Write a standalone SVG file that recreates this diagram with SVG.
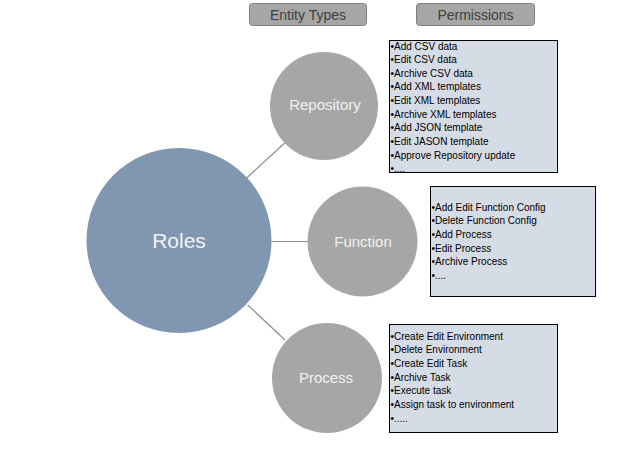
<svg xmlns="http://www.w3.org/2000/svg" width="632" height="458" viewBox="0 0 632 458">
<style>
.hdr{fill:#a6a6a6;stroke:#7f7f7f;stroke-width:1}
.hdrt{font-family:"Liberation Sans",Arial,sans-serif;font-size:14px;fill:#404040;text-anchor:middle}
.gc{fill:#a6a6a6}
.ct{font-family:"Liberation Sans",Arial,sans-serif;font-size:15px;fill:#f2f2f2;text-anchor:middle}
.box{fill:#d6dce5;stroke:#000;stroke-width:1}
.pt{font-family:"Liberation Sans",Arial,sans-serif;font-size:10px;fill:#000}
.conn line{stroke:#8c8c8c;stroke-width:1.2}
</style>
<rect width="632" height="458" fill="#fff"/>
<g id="hdr-entity"><rect class="hdr" x="249.5" y="3.5" width="117" height="22" rx="3"/><text class="hdrt" x="308" y="19.5">Entity Types</text></g>
<g id="hdr-perm"><rect class="hdr" x="416.5" y="3.5" width="118" height="22" rx="3"/><text class="hdrt" x="475.5" y="19.5">Permissions</text></g>
<g class="conn" id="connectors">
<line x1="246.7" y1="178" x2="285" y2="142.7"/>
<line x1="271.5" y1="241.5" x2="308" y2="241.5"/>
<line x1="247.7" y1="305" x2="285" y2="340"/>
</g>
<g id="roles"><circle cx="179" cy="240.5" r="92.5" fill="#8096b1"/><text x="179" y="248" font-family="'Liberation Sans',Arial,sans-serif" font-size="21" fill="#f2f2f2" text-anchor="middle">Roles</text></g>
<g id="repository"><circle class="gc" cx="324" cy="106" r="54"/><text class="ct" x="325" y="110">Repository</text></g>
<g id="function"><circle class="gc" cx="362.5" cy="241.5" r="55"/><text class="ct" x="363" y="246.5">Function</text></g>
<g id="process"><circle class="gc" cx="327" cy="378" r="55"/><text class="ct" x="326" y="383">Process</text></g>
<g id="perm-repository"><rect class="box" x="389.5" y="40.5" width="168" height="132"/>
<text class="pt" x="390.5" y="49.5">•Add CSV data</text>
<text class="pt" x="390.5" y="63.1">•Edit CSV data</text>
<text class="pt" x="390.5" y="76.8">•Archive CSV data</text>
<text class="pt" x="390.5" y="90.4">•Add XML templates</text>
<text class="pt" x="390.5" y="104.1">•Edit XML templates</text>
<text class="pt" x="390.5" y="117.7">•Archive XML templates</text>
<text class="pt" x="390.5" y="131.4">•Add JSON template</text>
<text class="pt" x="390.5" y="145">•Edit JASON template</text>
<text class="pt" x="390.5" y="158.7">•Approve Repository update</text>
<text class="pt" x="390.5" y="172.3">•....</text>
</g>
<g id="perm-function"><rect class="box" x="430.5" y="186.5" width="165" height="110"/>
<text class="pt" x="431.5" y="210.5">•Add Edit Function Config</text>
<text class="pt" x="431.5" y="224.2">•Delete Function Config</text>
<text class="pt" x="431.5" y="237.9">•Add Process</text>
<text class="pt" x="431.5" y="251.6">•Edit Process</text>
<text class="pt" x="431.5" y="265.3">•Archive Process</text>
<text class="pt" x="431.5" y="279">•....</text>
</g>
<g id="perm-process"><rect class="box" x="389.5" y="324.5" width="168" height="108"/>
<text class="pt" x="390.5" y="339.5">•Create Edit Environment</text>
<text class="pt" x="390.5" y="353.2">•Delete Environment</text>
<text class="pt" x="390.5" y="366.9">•Create Edit Task</text>
<text class="pt" x="390.5" y="380.6">•Archive Task</text>
<text class="pt" x="390.5" y="394.3">•Execute task</text>
<text class="pt" x="390.5" y="408">•Assign task to environment</text>
<text class="pt" x="390.5" y="421.7">•.....</text>
</g>
</svg>
